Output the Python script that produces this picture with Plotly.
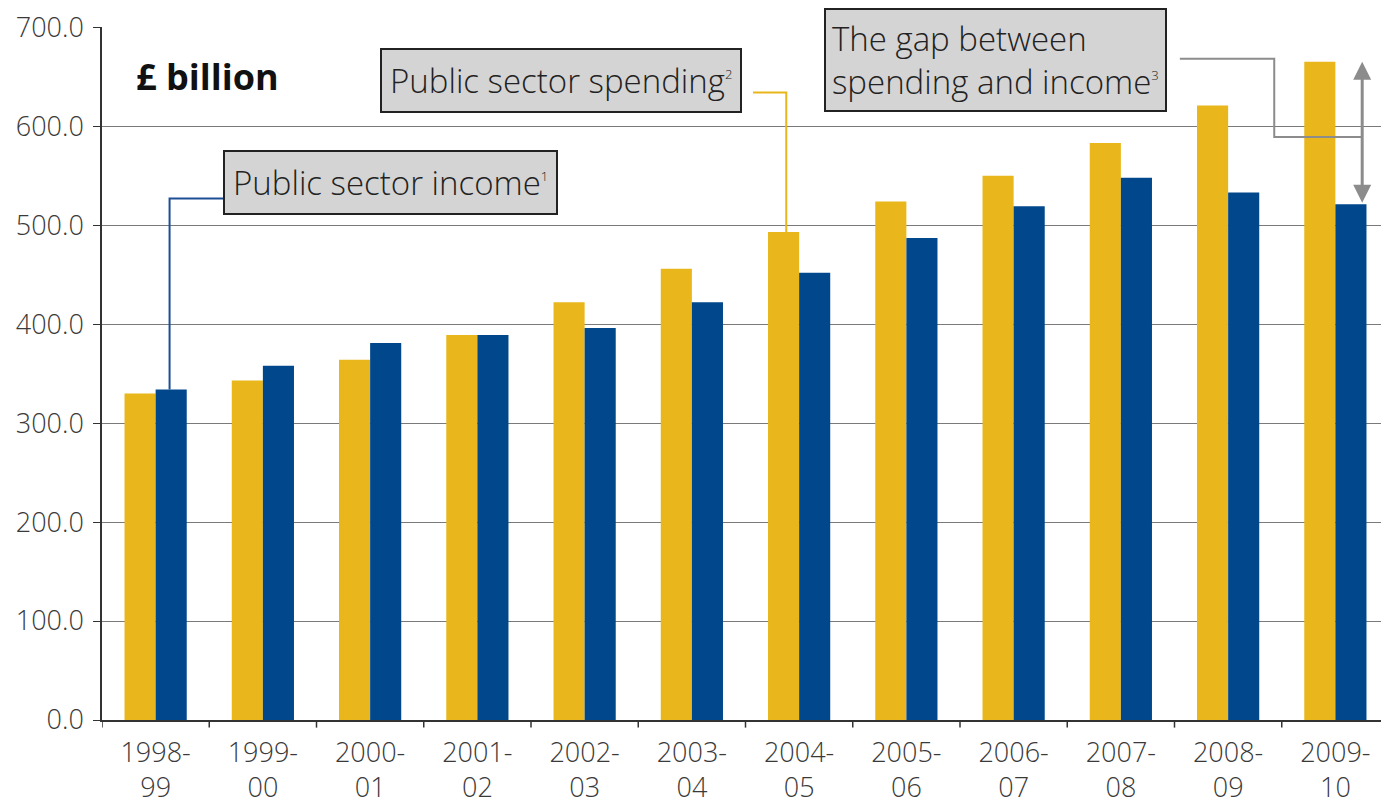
import plotly.graph_objects as go

years = ['1998-<br>99', '1999-<br>00', '2000-<br>01', '2001-<br>02', '2002-<br>03', '2003-<br>04',
         '2004-<br>05', '2005-<br>06', '2006-<br>07', '2007-<br>08', '2008-<br>09', '2009-<br>10']
spending = [330, 343, 364, 389, 422, 456, 493, 524, 550, 583, 621, 665]
income = [334, 358, 381, 389, 396, 422, 452, 487, 519, 548, 533, 521]

yellow = '#E9B71B'
blue = '#00478C'
grey_box = '#D4D4D4'
font_name = 'Open Sans'


def sup(n):
    return f'<sup><span style="font-size:13px">{n}</span></sup>'


x_idx = list(range(len(years)))

fig = go.Figure()
fig.add_trace(go.Bar(x=x_idx, y=spending, name='Public sector spending', marker_color=yellow,
                     marker_line_width=0))
fig.add_trace(go.Bar(x=x_idx, y=income, name='Public sector income', marker_color=blue,
                     marker_line_width=0))

# page body has an 8px margin, so the figure is shifted by that much
fig.update_layout(
    width=1381, height=799,
    margin=dict(l=94, r=0, t=19, b=87),
    plot_bgcolor='white', paper_bgcolor='white',
    barmode='group', bargap=0.42, bargroupgap=0,
    showlegend=False,
    font=dict(family=font_name, color='#333333'),
)

tick_font = dict(size=27, color='#3a3a3a', family=font_name, weight=300)
fig.update_yaxes(range=[0, 700.2], tickmode='array', tickvals=[0, 100, 200, 300, 400, 500, 600, 700],
                 tickformat='.1f', automargin=False, ticklabeloverflow='allow',
                 showgrid=True, gridcolor='#7a7a7a', gridwidth=1,
                 showline=True, linecolor='#333333', linewidth=1.5,
                 ticks='outside', ticklen=7, tickcolor='#333333', ticklabelstandoff=4,
                 tickfont=tick_font, zeroline=False)
fig.update_xaxes(tickmode='array', tickvals=x_idx, ticktext=years, automargin=False,
                 range=[-0.5, len(years) - 0.5], ticklabeloverflow='allow',
                 showline=True, linecolor='#333333', linewidth=1.5, ticklabelstandoff=8,
                 ticks='', tickfont=tick_font, showgrid=False)

# boundary tick marks between categories
for i in range(len(years) + 1):
    fig.add_shape(type='line', xref='x', yref='paper', x0=i - 0.5, x1=i - 0.5, y0=0, y1=-0.011,
                  line=dict(color='#333333', width=1.5))

# £ billion label
fig.add_annotation(xref='x', yref='y', x=-0.2, y=650, text='<b>£ billion</b>', showarrow=False,
                   xanchor='left', yanchor='middle', font=dict(size=36, color='#111111', family=font_name))

box = dict(showarrow=False, xanchor='left', yanchor='middle', bgcolor=grey_box,
           bordercolor='#222222', borderwidth=2, align='left')
box_font = dict(size=33, color='#222222', family=font_name, weight=300)

# income callout
fig.add_annotation(xref='x', yref='y', x=0.63, y=543, text='Public sector income' + sup(1),
                   borderpad=8, font=box_font, **box)
fig.add_shape(type='path', xref='x', yref='y',
              path=f'M 0.13 {income[0]} L 0.13 527 L 0.63 527',
              line=dict(color='#1f4e96', width=2))

# spending callout
fig.add_annotation(xref='x', yref='y', x=2.09, y=646, text='Public sector spending' + sup(2),
                   borderpad=8, font=box_font, **box)
fig.add_shape(type='path', xref='x', yref='y',
              path=f'M 5.57 634 L 5.88 634 L 5.88 {spending[6]}',
              line=dict(color=yellow, width=2))

# gap callout
fig.add_annotation(xref='x', yref='y', x=6.23, y=667,
                   text='The gap between<br>spending and income' + sup(3),
                   borderpad=6, font=box_font, **box)
fig.add_shape(type='path', xref='x', yref='y',
              path='M 9.55 668 L 10.43 668 L 10.43 589 L 11.25 589',
              line=dict(color='#8c8c8c', width=2))
fig.add_annotation(xref='x', yref='y', axref='x', ayref='y',
                   x=11.25, y=spending[-1], ax=11.25, ay=income[-1], text='',
                   showarrow=True, arrowhead=2, startarrowhead=2, arrowside='end+start',
                   arrowsize=1.2, arrowwidth=3, arrowcolor='#8c8c8c')

fig.write_html('out.html')
